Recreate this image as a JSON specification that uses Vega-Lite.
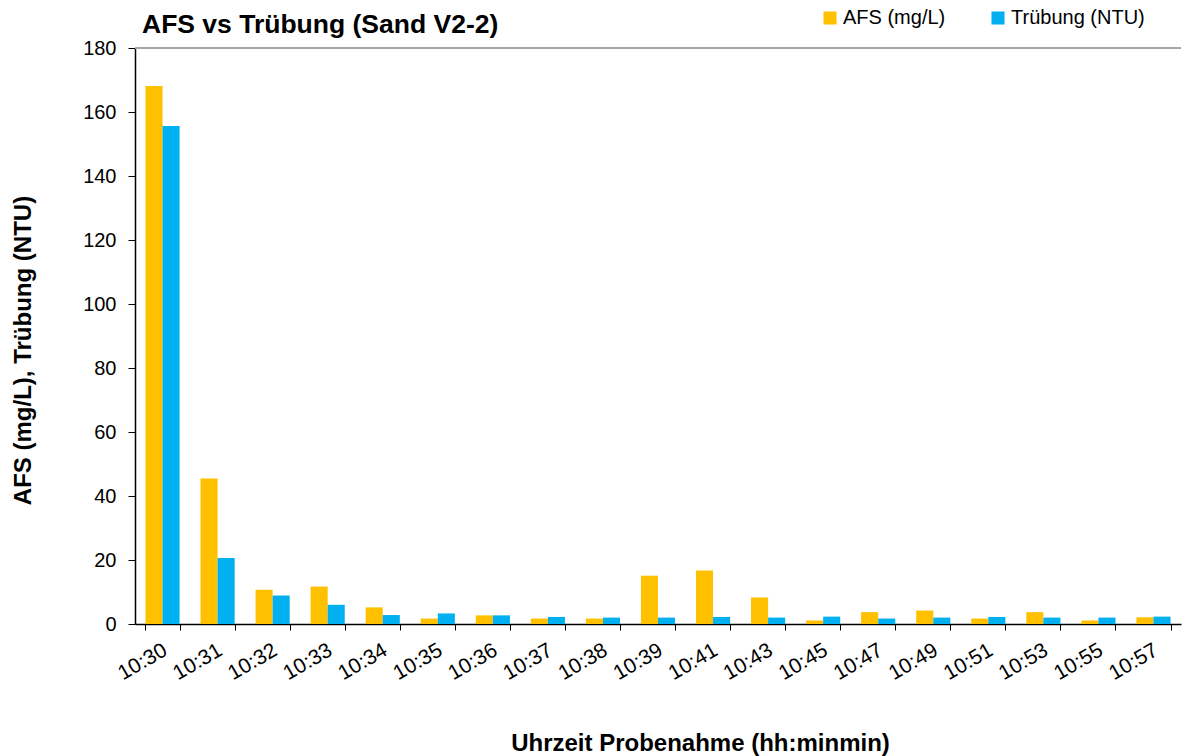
{
  "$schema": "https://vega.github.io/schema/vega-lite/v6.json",
  "width": 1046,
  "height": 576,
  "autosize": {"type": "none"},
  "padding": {"left": 135, "top": 48, "right": 1, "bottom": 132},
  "background": "white",
  "config": {
    "font": "Liberation Sans",
    "view": {"stroke": null},
    "axis": {"labelFont": "Liberation Sans", "titleFont": "Liberation Sans", "labelColor": "#000", "titleColor": "#000"}
  },
  "title": {
    "text": "AFS vs Trübung (Sand V2-2)",
    "anchor": "start",
    "frame": "group",
    "dx": 7,
    "offset": -30,
    "fontSize": 26.5,
    "fontWeight": "bold",
    "color": "#000",
    "font": "Liberation Sans"
  },
  "data": {
    "values": [
      {"time": "10:30", "series": "AFS (mg/L)", "value": 168.1},
      {"time": "10:30", "series": "Trübung (NTU)", "value": 155.6},
      {"time": "10:31", "series": "AFS (mg/L)", "value": 45.5},
      {"time": "10:31", "series": "Trübung (NTU)", "value": 20.6},
      {"time": "10:32", "series": "AFS (mg/L)", "value": 10.7},
      {"time": "10:32", "series": "Trübung (NTU)", "value": 8.9},
      {"time": "10:33", "series": "AFS (mg/L)", "value": 11.7},
      {"time": "10:33", "series": "Trübung (NTU)", "value": 6.0},
      {"time": "10:34", "series": "AFS (mg/L)", "value": 5.2},
      {"time": "10:34", "series": "Trübung (NTU)", "value": 2.8},
      {"time": "10:35", "series": "AFS (mg/L)", "value": 1.7},
      {"time": "10:35", "series": "Trübung (NTU)", "value": 3.3},
      {"time": "10:36", "series": "AFS (mg/L)", "value": 2.7},
      {"time": "10:36", "series": "Trübung (NTU)", "value": 2.7},
      {"time": "10:37", "series": "AFS (mg/L)", "value": 1.7},
      {"time": "10:37", "series": "Trübung (NTU)", "value": 2.2},
      {"time": "10:38", "series": "AFS (mg/L)", "value": 1.7},
      {"time": "10:38", "series": "Trübung (NTU)", "value": 2.0},
      {"time": "10:39", "series": "AFS (mg/L)", "value": 15.1},
      {"time": "10:39", "series": "Trübung (NTU)", "value": 2.0},
      {"time": "10:41", "series": "AFS (mg/L)", "value": 16.7},
      {"time": "10:41", "series": "Trübung (NTU)", "value": 2.2},
      {"time": "10:43", "series": "AFS (mg/L)", "value": 8.3},
      {"time": "10:43", "series": "Trübung (NTU)", "value": 2.0},
      {"time": "10:45", "series": "AFS (mg/L)", "value": 1.1},
      {"time": "10:45", "series": "Trübung (NTU)", "value": 2.3},
      {"time": "10:47", "series": "AFS (mg/L)", "value": 3.7},
      {"time": "10:47", "series": "Trübung (NTU)", "value": 1.7},
      {"time": "10:49", "series": "AFS (mg/L)", "value": 4.2},
      {"time": "10:49", "series": "Trübung (NTU)", "value": 2.0},
      {"time": "10:51", "series": "AFS (mg/L)", "value": 1.7},
      {"time": "10:51", "series": "Trübung (NTU)", "value": 2.2},
      {"time": "10:53", "series": "AFS (mg/L)", "value": 3.7},
      {"time": "10:53", "series": "Trübung (NTU)", "value": 2.0},
      {"time": "10:55", "series": "AFS (mg/L)", "value": 1.1},
      {"time": "10:55", "series": "Trübung (NTU)", "value": 2.0},
      {"time": "10:57", "series": "AFS (mg/L)", "value": 2.1},
      {"time": "10:57", "series": "Trübung (NTU)", "value": 2.3}
    ]
  },
  "layer": [
    {
      "mark": {"type": "rule", "color": "#a6a6a6", "strokeWidth": 1},
      "encoding": {"y": {"datum": 180, "type": "quantitative"}}
    },
    {
      "mark": {"type": "bar"},
      "encoding": {
        "x": {
          "field": "time",
          "type": "nominal",
          "sort": null,
          "scale": {"paddingInner": 0.38, "paddingOuter": 0.19},
          "axis": {
            "title": "Uhrzeit Probenahme (hh:minmin)",
            "titleFontSize": 24,
            "titleFontWeight": "bold",
            "titleX": 565,
            "titleY": 119,
            "titleBaseline": "middle",
            "titleAnchor": null,
            "titleAlign": "center",
            "labelAngle": -30,
            "labelFontSize": 21,
            "labelPadding": 9,
            "labelOffset": -3,
            "tickBand": "extent",
            "tickSize": 6,
            "tickColor": "#000",
            "domainColor": "#000",
            "domainWidth": 1.5
          }
        },
        "xOffset": {"field": "series", "type": "nominal", "sort": ["AFS (mg/L)", "Trübung (NTU)"]},
        "y": {
          "field": "value",
          "type": "quantitative",
          "scale": {"domain": [0, 180], "nice": false},
          "axis": {
            "title": "AFS (mg/L), Trübung (NTU)",
            "titleFontSize": 24,
            "titleFontWeight": "bold",
            "titleX": -112,
            "titleY": 302,
            "titleAngle": -90,
            "titleAlign": "center",
            "titleBaseline": "middle",
            "values": [0, 20, 40, 60, 80, 100, 120, 140, 160, 180],
            "labelFontSize": 20,
            "labelPadding": 12,
            "tickSize": 7,
            "tickColor": "#000",
            "domainColor": "#000",
            "domainWidth": 1.5,
            "grid": false
          }
        },
        "color": {
          "field": "series",
          "type": "nominal",
          "sort": ["AFS (mg/L)", "Trübung (NTU)"],
          "scale": {"range": ["#FFC000", "#00B0F0"]},
          "legend": {
            "title": null,
            "orient": "none",
            "legendX": 685,
            "legendY": -40,
            "direction": "horizontal",
            "padding": 0,
            "symbolType": "square",
            "symbolSize": 170,
            "symbolStrokeWidth": 0,
            "labelFontSize": 20,
            "labelOffset": 3,
            "labelColor": "#000",
            "columnPadding": 42
          }
        }
      }
    }
  ]
}
